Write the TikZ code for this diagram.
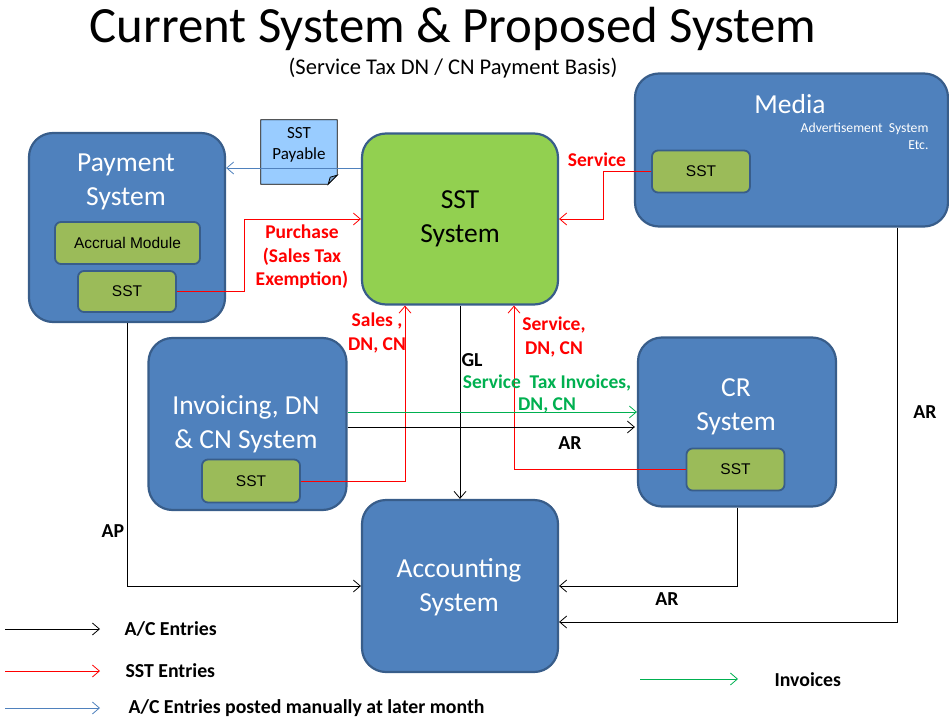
\documentclass[tikz,border=0pt]{standalone}
\usepackage{fontspec}
\setmainfont{Carlito}
\newfontfamily\arialfont{Liberation Sans}
\usetikzlibrary{arrows.meta}

\definecolor{boxblue}{HTML}{4F81BD}
\definecolor{boxedge}{HTML}{385D8A}
\definecolor{modgreen}{HTML}{9BBB59}
\definecolor{limegreen}{HTML}{92D050}
\definecolor{notefill}{HTML}{99CCFF}
\definecolor{notefold}{HTML}{7AA3CC}
\definecolor{invgreen}{HTML}{00B050}
\definecolor{manualblue}{HTML}{4F81BD}

\tikzset{
	sysbox/.style={draw=boxedge, fill=boxblue, line width=2.2pt, rounded corners=24pt, inner sep=0pt},
	modbox/.style={draw=boxedge, fill=modgreen, line width=1.8pt, rounded corners=6pt, inner sep=0pt,
		font=\arialfont\fontsize{15.5}{18}\selectfont},
	systext/.style={text=white, align=center, font=\fontsize{27.5}{34}\selectfont},
	redlbl/.style={text=red, align=center, font=\bfseries\fontsize{19.5}{23.5}\selectfont},
	grnlbl/.style={text=invgreen, align=center, font=\bfseries\fontsize{19.5}{22}\selectfont},
	blklbl/.style={align=center, font=\bfseries\fontsize{19.8}{23.5}\selectfont},
	openarrow/.style={-{Straight Barb[length=7pt,width=12pt]}},
	acline/.style={black, line width=0.8pt, openarrow},
	sstline/.style={red, line width=0.8pt, openarrow},
	invline/.style={invgreen, line width=0.8pt, openarrow},
	manline/.style={manualblue, line width=0.8pt, openarrow},
}

\begin{document}
\begin{tikzpicture}[x=1pt, y=-1pt]
	\useasboundingbox (0,0) rectangle (949,727);

	% heading
	\node[font=\fontsize{50.8}{60}\selectfont] (title) at (453,29) {Current System \& Proposed System};
	\node[font=\fontsize{22.5}{26}\selectfont] (subtitle) at (453,68) {(Service Tax DN / CN Payment Basis)};

	% systems
	\node[sysbox, minimum width=196pt, minimum height=189pt] (pay) at (127,227.5) {};
	\node[sysbox, fill=limegreen, minimum width=196pt, minimum height=171pt] (sst) at (460,219) {};
	\node[sysbox, minimum width=313pt, minimum height=153pt] (media) at (791.5,150) {};
	\node[sysbox, minimum width=198pt, minimum height=172pt] (inv) at (247.5,424) {};
	\node[sysbox, minimum width=198pt, minimum height=169pt] (cr) at (737,422) {};
	\node[sysbox, minimum width=196pt, minimum height=172pt] (acc) at (460,586) {};

	\node[systext] (paytext) at (126,182) {Payment\\System};
	\node[systext, text=black] (ssttext) at (460,219) {SST\\System};
	\node[systext] (mediatext) at (790,104) {Media};
	\node[text=white, align=right, anchor=east, font=\fontsize{13.7}{17}\selectfont] (adtext) at (932,136)
		{Advertisement\ \ System\\Etc.};
	\node[systext] (invtext) at (246,424) {Invoicing, DN\\\& CN System};
	\node[systext] (crtext) at (736,407) {CR\\System};
	\node[systext] (acctext) at (459,587) {Accounting\\System};

	% modules
	\node[modbox, minimum width=145pt, minimum height=42pt] (accrual) at (127.5,243) {Accrual Module};
	\node[modbox, minimum width=98pt, minimum height=41pt] (paysst) at (127,291.5) {SST};
	\node[modbox, minimum width=98pt, minimum height=42pt] (medsst) at (701,171.5) {SST};
	\node[modbox, minimum width=98pt, minimum height=43pt] (invsst) at (251,481) {SST};
	\node[modbox, minimum width=98pt, minimum height=42pt] (crsst) at (735.5,469.5) {SST};

	% note
	\node[minimum width=76pt, minimum height=64pt, inner sep=0pt] (payable) at (299,152) {};
	\filldraw[fill=notefill, draw=black, line width=0.8pt] (payable.north west) -- (payable.north east)
		-- ([yshift=9pt]payable.south east) -- ([xshift=-9pt]payable.south east)
		-- (payable.south west) -- cycle;
	\filldraw[fill=notefold, draw=black, line width=0.8pt] ([yshift=9pt]payable.south east)
		-- ([xshift=-7pt, yshift=7pt]payable.south east) -- ([xshift=-9pt]payable.south east) -- cycle;
	\node[align=center, font=\fontsize{17}{21}\selectfont] (payabletext) at (299,145) {SST\\Payable};

	% connectors
	\draw[manline] ([yshift=51pt]sst.west) -- ([yshift=51pt]sst.west -| pay.east);
	\draw[sstline] (paysst.east) -- ++(67,0) |- (sst.west);
	\draw[sstline] (medsst.west) -- ++(-48,0) |- (sst.east);
	\draw[sstline] (invsst.east) -| ([xshift=-55pt]sst.south);
	\draw[sstline] (crsst.west) -| ([xshift=54pt]sst.south);
	\draw[acline] (sst.south) -- (acc.north);
	\draw[invline] ([yshift=12pt]inv.east) -- ([yshift=12pt]inv.east -| cr.west);
	\draw[acline] ([yshift=-3pt]inv.east) -- ([yshift=-3pt, xshift=-2pt]inv.east -| cr.west);
	\draw[acline] (pay.south) |- (acc.west);
	\draw[acline] (cr.south) |- (acc.east);
	\draw[acline] ([xshift=105.5pt]media.south) |- ([yshift=-36pt]acc.east);

	% connector labels
	\node[redlbl] (lservice) at (597,160) {Service};
	\node[redlbl] (lpurchase) at (302,257) {Purchase\\(Sales Tax\\Exemption)};
	\node[redlbl] (lsales) at (377,333) {Sales ,\\DN, CN};
	\node[redlbl] (lservdn) at (554,337) {Service,\\DN, CN};
	\node[blklbl] (lgl) at (472,360) {GL};
	\node[grnlbl] (linvoices) at (547,394) {Service\ \ Tax Invoices,\\DN, CN};
	\node[blklbl] (lar1) at (570,443) {AR};
	\node[blklbl] (lar2) at (667,599) {AR};
	\node[blklbl] (lar3) at (925,412) {AR};
	\node[blklbl] (lap) at (113,531) {AP};

	% key
	\coordinate (k1a) at (5,629);
	\coordinate (k1b) at (100,629);
	\coordinate (k2a) at (5,671);
	\coordinate (k2b) at (100,671);
	\coordinate (k3a) at (5,708);
	\coordinate (k3b) at (100,708);
	\coordinate (k4a) at (640,679);
	\coordinate (k4b) at (738,679);
	\draw[acline] (k1a) -- (k1b);
	\draw[sstline] (k2a) -- (k2b);
	\draw[manline] (k3a) -- (k3b);
	\draw[invline] (k4a) -- (k4b);
	\node[blklbl, anchor=west] (key1) at (121,629) {A/C Entries};
	\node[blklbl, anchor=west] (key2) at (122,671) {SST Entries};
	\node[blklbl, anchor=west] (key3) at (125,708) {A/C Entries posted manually at later month};
	\node[blklbl, anchor=west] (key4) at (771,680) {Invoices};
\end{tikzpicture}
\end{document}
